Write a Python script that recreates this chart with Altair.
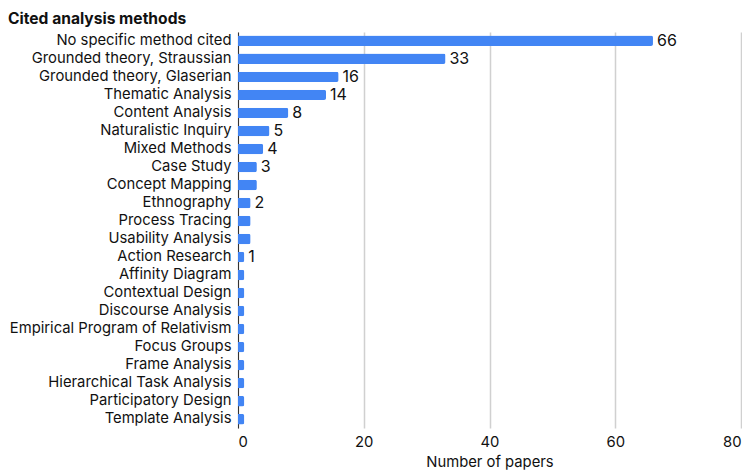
import altair as alt
import pandas as pd

methods = [
    "No specific method cited", "Grounded theory, Straussian", "Grounded theory, Glaserian",
    "Thematic Analysis", "Content Analysis", "Naturalistic Inquiry", "Mixed Methods",
    "Case Study", "Concept Mapping", "Ethnography", "Process Tracing", "Usability Analysis",
    "Action Research", "Affinity Diagram", "Contextual Design", "Discourse Analysis",
    "Empirical Program of Relativism", "Focus Groups", "Frame Analysis",
    "Hierarchical Task Analysis", "Participatory Design", "Template Analysis",
]
counts = [66, 33, 16, 14, 8, 5, 4, 3, 3, 2, 2, 2, 1, 1, 1, 1, 1, 1, 1, 1, 1, 1]
labels = ["66", "33", "16", "14", "8", "5", "4", "3", "", "2", "", "", "1",
          "", "", "", "", "", "", "", "", ""]

df = pd.DataFrame({"method": methods, "count": counts, "label": labels})

FONT = "Inter"
FS = 14.8

y = alt.Y("method:N", sort=methods, title=None,
          scale=alt.Scale(paddingInner=0.42, paddingOuter=0.2),
          axis=alt.Axis(labelFontSize=FS, labelColor="#111", labelFont=FONT,
                        ticks=False, labelPadding=7, domainColor="#333",
                        grid=False, labelLimit=300))
x = alt.X("count:Q", title="Number of papers",
          scale=alt.Scale(domain=[0, 80]),
          axis=alt.Axis(values=[0, 20, 40, 60, 80], labelFontSize=FS, labelColor="#111",
                        labelFont=FONT, titleFont=FONT, titleFontSize=FS,
                        titleFontWeight="normal", titleColor="#111",
                        domain=False, ticks=False, labelPadding=6, titlePadding=6,
                        grid=True, gridColor="#d0d0d0", gridWidth=1.5))

bars = alt.Chart(df).mark_bar(color="#4285F4", cornerRadiusEnd=2).encode(x=x, y=y)
text = alt.Chart(df).mark_text(align="left", baseline="middle", dx=4,
                               fontSize=16, font=FONT, color="#111").encode(
    x="count:Q", y=alt.Y("method:N", sort=methods), text="label:N")

chart = alt.layer(bars, text).properties(
    width=503, height=396,
    autosize=alt.AutoSizeParams(type="none"),
    padding={"left": 230, "top": 24, "right": 1, "bottom": 43},
    title=alt.TitleParams("Cited analysis methods", anchor="start", frame="group",
                          dx=-230, font=FONT, fontSize=15.6, fontWeight="bold",
                          color="#111", offset=4),
).configure_view(stroke=None)

chart.save("out.html", embed_options={"renderer": "svg", "actions": False})
